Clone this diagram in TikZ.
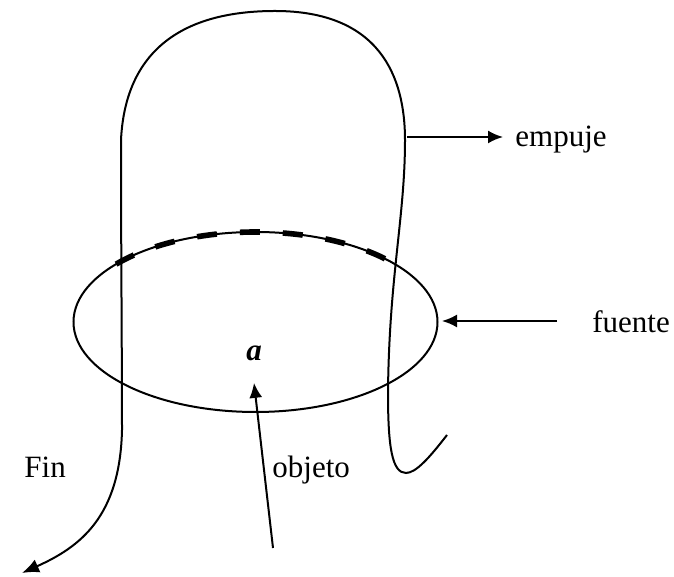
\documentclass[tikz,border=0pt]{standalone}
\usepackage{fontspec}
\setmainfont{Liberation Serif}
\usepackage{tikz}
\usetikzlibrary{arrows.meta, positioning, calc}

\begin{document}
\begin{tikzpicture}[
  x=0.5pt, y=0.5pt,
  curve/.style={line width=1pt},
  thickdash/.style={line width=2.8pt, dash pattern=on 10pt off 11.5pt},
  arr/.style={-{Latex[length=7.5pt, width=6.5pt]}, line width=1pt},
  lbl/.style={font=\fontsize{15.5}{18}\selectfont, inner sep=0pt}
]
\useasboundingbox (0,0) rectangle (674,577);

% Ellipse (fuente)
\draw[curve] (255.5,255) ellipse [x radius=182, y radius=90];
\draw[thickdash] (255.5,255) ++(140:182 and 90) arc[start angle=140, end angle=38, x radius=182, y radius=90];

% Long loop ending in the arrow
\coordinate (hook) at (447,142);
\coordinate (endtip) at (22,4);
\draw[curve, -{Latex[length=8.5pt, width=7pt]}] (hook)
  .. controls (430,120) and (416,104) .. (406,104)
  .. controls (392,104) and (388,130) .. (388,184)
  .. controls (389,300) and (405,360) .. (405,437)
  .. controls (405,500) and (380,566) .. (275,566)
  .. controls (175,566) and (125,520) .. (121,437)
  .. controls (121,330) and (122,220) .. (122,147)
  .. controls (120,60) and (80,30) .. (endtip);

% Labels
\node[lbl, anchor=base west] (empuje) at (515,430) {empuje};
\node[lbl, anchor=base west] (fuente) at (592,244) {fuente};
\node[lbl] (a) at (254,224) {\textbf{\textit{a}}};
\node[lbl, anchor=base west] (objeto) at (272,99) {objeto};
\node[lbl, anchor=base west] (fin) at (24,99) {Fin};

% Arrows
\coordinate (empS) at (407,440);
\coordinate (fuenS) at (557,256);
\coordinate (objS) at (273,29);
\draw[arr] (empS) -- ([xshift=-6pt]empuje.west |- empS);
\draw[arr] (fuenS) -- (442,256);
\draw[arr] (objS) -- ([yshift=-11pt]a.south);

\end{tikzpicture}
\end{document}
